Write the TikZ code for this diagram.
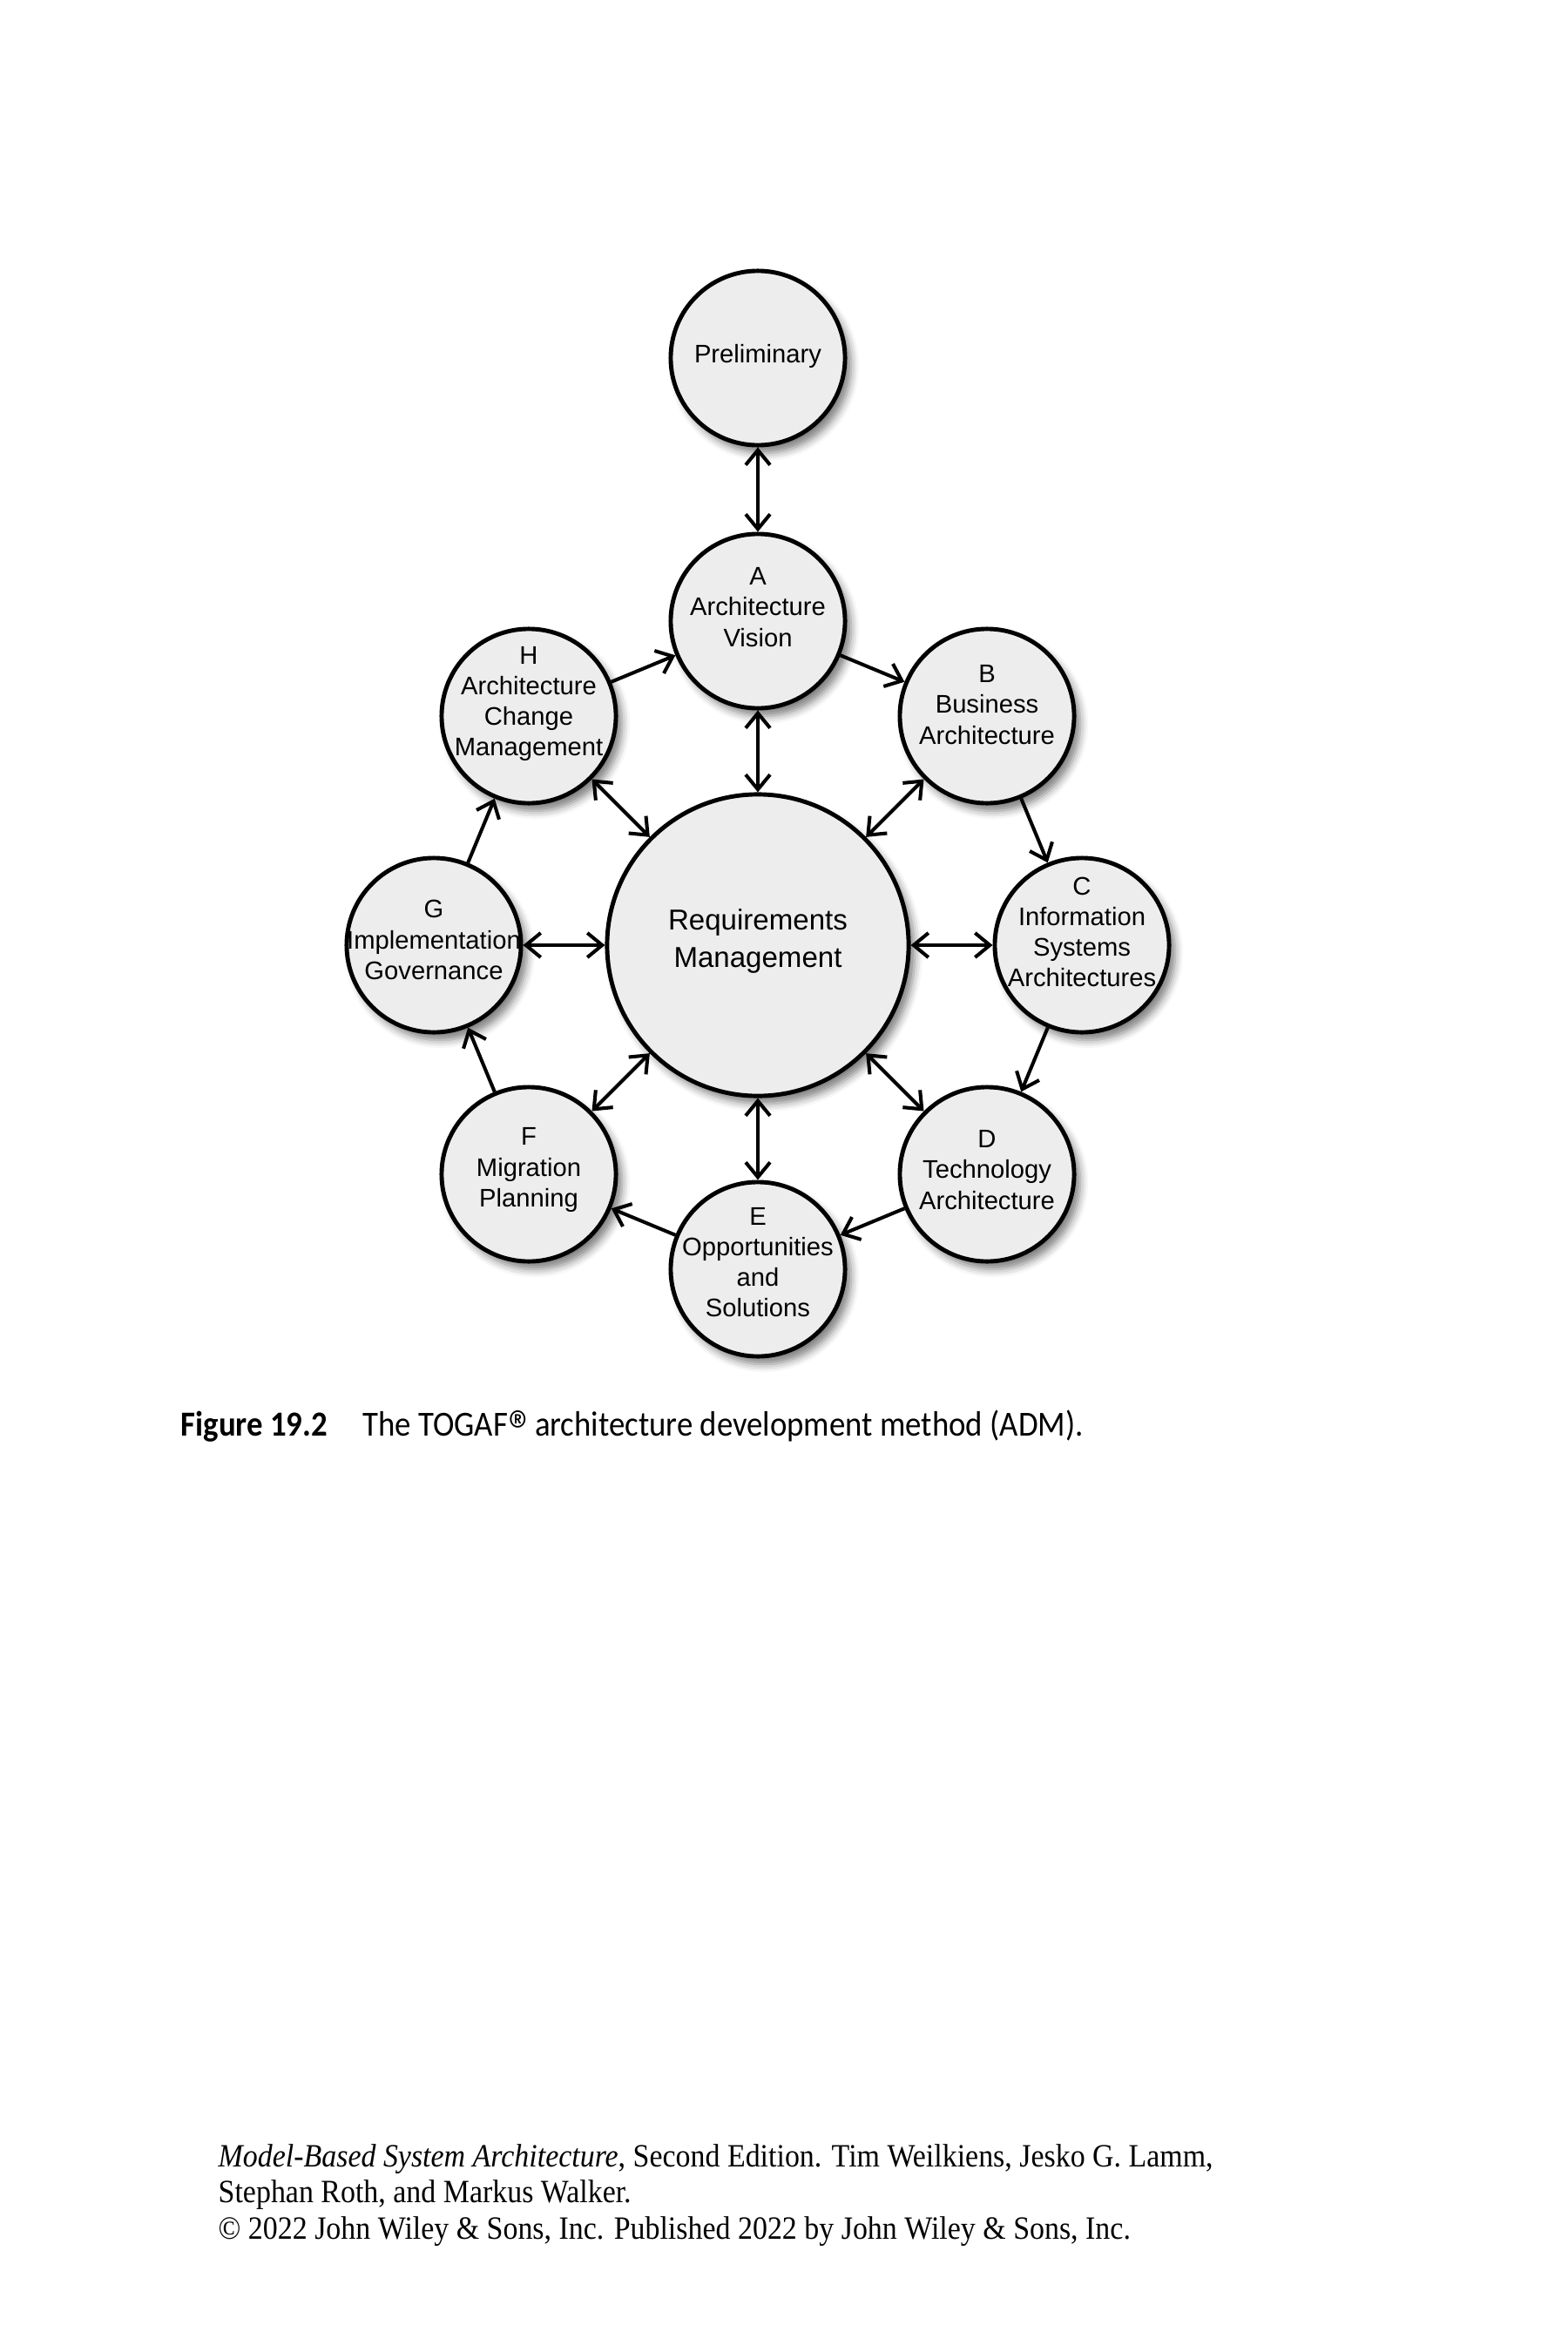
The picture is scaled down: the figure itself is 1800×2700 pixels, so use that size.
\documentclass[tikz,border=0pt]{standalone}
\usepackage{fontspec}
\setmainfont{Liberation Serif}[FakeStretch=0.91]
\newfontfamily\arialf{Liberation Sans}
\newfontfamily\capf{Carlito}[FakeStretch=0.91]
\newfontfamily\regf{Fira Sans}[FakeStretch=0.91]
\usetikzlibrary{arrows.meta,shadows.blur}
\tikzset{
  phase/.style={circle, draw, line width=1.4pt, fill=black!7, minimum size=2.0cm, inner sep=0pt,
    blur shadow={shadow xshift=0.7mm, shadow yshift=-0.9mm, shadow blur radius=0.9mm, shadow opacity=50}},
  core/.style={phase, minimum size=3.46cm},
  lbl/.style={align=center, font=\arialf\fontsize{8.3}{10}\selectfont},
  biglbl/.style={align=center, font=\arialf\fontsize{9.4}{12.2}\selectfont},
  tip/.tip={Straight Barb[length=1.7mm,width=2.8mm]},
  conn/.style={line width=1.15pt, -tip},
  dconn/.style={line width=1.15pt, tip-tip},
}
\begin{document}
\begin{tikzpicture}[x=0.01cm,y=-0.01cm]
\useasboundingbox (0,0) rectangle (1800,2700);
% circles
\node[phase] (pP) at (870,411) {};
\node[phase] (pA) at (870,713) {};
\node[phase] (pB) at (1133,822) {};
\node[phase] (pC) at (1242,1085) {};
\node[phase] (pD) at (1133,1348) {};
\node[phase] (pE) at (870,1457) {};
\node[phase] (pF) at (607,1348) {};
\node[phase] (pG) at (498,1085) {};
\node[phase] (pH) at (607,822) {};
\node[core] (pR) at (870,1085) {};
% labels
\node[lbl, yshift=0.2mm] (tP) at (pP) {Preliminary};
\node[lbl, yshift=1.6mm] (tA) at (pA) {A\\Architecture\\Vision};
\node[lbl, yshift=1.3mm] (tB) at (pB) {B\\Business\\Architecture};
\node[lbl, yshift=1.5mm] (tC) at (pC) {C\\Information\\Systems\\Architectures};
\node[lbl, yshift=0.5mm] (tD) at (pD) {D\\Technology\\Architecture};
\node[lbl, yshift=0.8mm] (tE) at (pE) {E\\Opportunities\\and\\Solutions};
\node[lbl, yshift=0.5mm] (tF) at (pF) {F\\Migration\\Planning};
\node[lbl, yshift=0.6mm] (tG) at (pG) {G\\Implementation\\Governance};
\node[lbl, yshift=1.4mm] (tH) at (pH) {H\\Architecture\\Change\\Management};
\node[biglbl, yshift=0.5mm] (tR) at (pR) {Requirements\\Management};
% connectors
\draw[dconn] (pP) -- (pA);
\draw[dconn] (pA) -- (pR);
\foreach \n in {B,C,D,E,F,G,H} { \draw[dconn] (pR) -- (p\n); }
\draw[conn] (pH) -- (pA);
\draw[conn] (pA) -- (pB);
\draw[conn] (pB) -- (pC);
\draw[conn] (pC) -- (pD);
\draw[conn] (pD) -- (pE);
\draw[conn] (pE) -- (pF);
\draw[conn] (pF) -- (pG);
\draw[conn] (pG) -- (pH);
% caption
\node[anchor=base west, inner sep=0pt, font=\capf\fontsize{11.5}{13}\selectfont] (cap) at (207,1648)
  {\textbf{Figure 19.2}\hspace{1em}The TOGAF{\regf\fontsize{11}{13}\selectfont ®} architecture development method (ADM).};
% footer
\node[anchor=base west, inner sep=0pt, align=left, font=\fontsize{10.6}{11.8}\selectfont] (foot) at (250,2570)
  {\textit{Model-Based System Architecture}, Second Edition. Tim Weilkiens, Jesko G. Lamm,\\
   Stephan Roth, and Markus Walker.\\
   © 2022 John Wiley \& Sons, Inc. Published 2022 by John Wiley \& Sons, Inc.};
\end{tikzpicture}
\end{document}
